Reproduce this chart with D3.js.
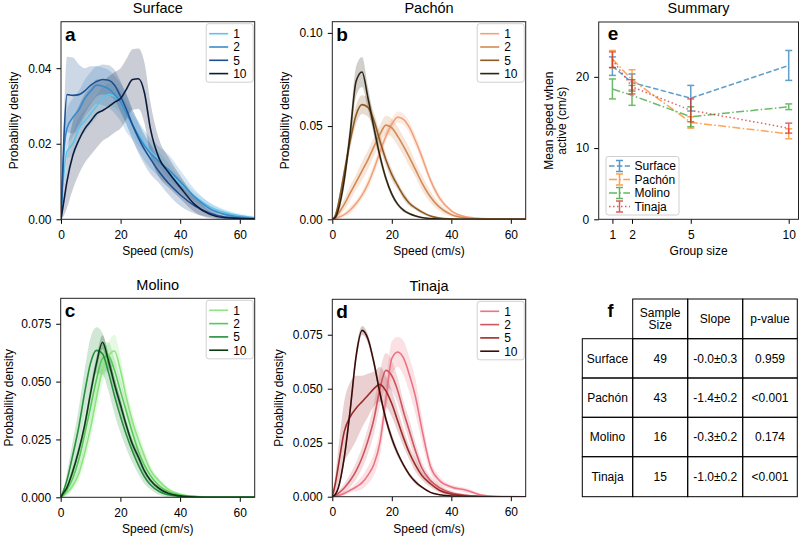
<!DOCTYPE html>
<html>
<head>
<meta charset="utf-8">
<script src="https://cdn.jsdelivr.net/npm/d3@7"></script>
<style>
  body { margin: 0; background: #fff; }
  svg { font-family: "Liberation Sans", Arial, sans-serif; }
</style>
</head>
<body>
<svg id="fig" width="800" height="538"></svg>
<script>
// speed grid (cm/s) shared by all density curves
const speedGrid = [0, 1, 2, 4, 6, 8, 10, 12, 14, 16, 18, 20, 22, 24, 26, 28, 30, 33, 36, 40, 45, 50, 55, 65];
const groupLabels = ["1", "2", "5", "10"];

// mean density for group sizes 1, 2, 5, 10
const surfaceMean = [
  [0, .012, .018, .020, .024, .026, .028, .030, .032, .033, .0325, .031, .028, .025, .0225, .020, .018, .0158, .0128, .0095, .006, .0033, .0018, .0004],
  [0, .018, .024, .027, .029, .032, .034, .0355, .0352, .0345, .033, .031, .028, .025, .022, .0195, .0175, .0152, .0132, .010, .0058, .0028, .0013, .0002],
  [0, .022, .033, .0328, .033, .034, .0355, .0365, .037, .0368, .0355, .0325, .029, .025, .0215, .0185, .016, .0125, .0096, .0065, .0035, .0016, .0006, .0001],
  [0, .005, .010, .017, .021, .024, .026, .028, .0288, .0298, .031, .032, .0345, .037, .0372, .0335, .024, .016, .0125, .0085, .0038, .0013, .0004, .0001]
];
const surfaceSpread = [
  [0, .002, .002, .003, .003, .003, .003, .003, .003, .003, .003, .003, .003, .003, .003, .002, .002, .002, .002, .0015, .0012, .001, .0008, .0004],
  [0, .004, .005, .005, .005, .005, .005, .005, .005, .005, .005, .005, .005, .004, .004, .004, .004, .004, .004, .003, .002, .0015, .001, .0004],
  [0, .006, .010, .010, .008, .006, .005, .004, .004, .004, .004, .004, .004, .004, .004, .004, .004, .003, .003, .003, .002, .001, .0006, .0002],
  [0, .004, .007, .009, .009, .009, .009, .009, .008, .008, .008, .008, .008, .008, .008, .008, .007, .005, .004, .003, .002, .001, .0004, .0001]
];

const pachonMean = [
  [0, .0005, .001, .0025, .005, .0085, .013, .019, .027, .036, .0445, .051, .0548, .0535, .049, .042, .034, .021, .0115, .0045, .0013, .0004, .0001, 0],
  [0, .001, .003, .008, .014, .020, .026, .032, .039, .0455, .0505, .049, .0445, .039, .033, .0265, .020, .012, .0065, .0025, .0007, .0002, 0, 0],
  [0, .002, .008, .025, .042, .056, .0615, .060, .053, .042, .032, .024, .018, .0125, .0085, .006, .004, .0018, .0007, .0002, 0, 0, 0, 0],
  [0, .001, .005, .021, .046, .074, .079, .065, .049, .034, .022, .0135, .008, .0048, .003, .0018, .001, .0004, .0001, 0, 0, 0, 0, 0]
];
const pachonSpread = [
  [0, 0, .001, .001, .002, .002, .002, .003, .003, .003, .003, .003, .003, .003, .003, .003, .003, .002, .002, .001, .0005, .0002, 0, 0],
  [0, .001, .002, .003, .004, .004, .005, .005, .005, .005, .005, .005, .005, .005, .005, .004, .004, .003, .002, .001, .0005, .0002, 0, 0],
  [0, .001, .002, .003, .004, .005, .005, .005, .004, .004, .003, .003, .002, .002, .0015, .001, .001, .0005, .0003, .0002, 0, 0, 0, 0],
  [0, .001, .002, .004, .006, .008, .008, .006, .004, .003, .002, .0015, .001, .001, .0005, .0005, .0003, .0002, .0001, 0, 0, 0, 0, 0]
];

const molinoMean = [
  [0, .001, .002, .005, .010, .019, .030, .043, .055, .061, .0632, .055, .043, .033, .025, .018, .012, .007, .0035, .0013, .0004, .0001, 0, 0],
  [0, .001, .003, .008, .016, .027, .039, .051, .060, .061, .055, .046, .037, .028, .020, .014, .0095, .005, .0025, .001, .0003, 0, 0, 0],
  [0, .003, .007, .018, .030, .045, .058, .0635, .062, .054, .044, .035, .027, .020, .014, .009, .0055, .0025, .0011, .0004, .0001, 0, 0, 0],
  [0, .002, .004, .011, .020, .031, .045, .058, .067, .059, .049, .040, .031, .023, .0175, .0115, .0075, .0038, .0017, .0006, .0001, 0, 0, 0]
];
const molinoSpread = [
  [0, 0, .001, .002, .003, .004, .005, .006, .006, .006, .007, .006, .005, .004, .004, .003, .002, .0015, .001, .0005, .0002, 0, 0, 0],
  [0, .001, .002, .004, .005, .006, .006, .007, .007, .006, .005, .005, .004, .004, .003, .003, .002, .0015, .001, .0005, .0002, 0, 0, 0],
  [0, .001, .003, .006, .008, .010, .011, .010, .009, .008, .008, .007, .006, .005, .004, .003, .002, .0015, .001, .0005, .0002, 0, 0, 0],
  [0, .001, .001, .002, .002, .003, .003, .003, .003, .003, .003, .003, .002, .002, .002, .0015, .001, .001, .0005, .0003, 0, 0, 0, 0]
];

const tinajaMean = [
  [0, .0002, .0005, .0015, .003, .0045, .0065, .010, .015, .025, .045, .064, .067, .064, .056, .046, .032, .014, .0075, .0045, .003, .0008, .0002, 0],
  [0, .0005, .0015, .004, .0075, .012, .018, .026, .036, .050, .0585, .056, .049, .039, .030, .021, .0135, .0075, .0042, .0018, .0006, .0002, 0, 0],
  [0, .006, .014, .030, .037, .041, .044, .047, .050, .052, .049, .043, .035, .027, .020, .0145, .010, .006, .003, .0012, .0004, .0001, 0, 0],
  [0, .001, .004, .018, .040, .065, .077, .073, .062, .048, .036, .027, .020, .0145, .010, .0068, .0045, .002, .0009, .0003, 0, 0, 0, 0]
];
const tinajaSpread = [
  [0, 0, .0005, .001, .001, .002, .003, .004, .005, .006, .007, .008, .007, .008, .008, .008, .006, .003, .002, .001, .001, .0005, .0002, 0],
  [0, .0005, .001, .002, .003, .004, .005, .006, .007, .008, .008, .007, .006, .005, .005, .004, .003, .002, .0015, .001, .0005, .0002, 0, 0],
  [0, .004, .008, .014, .016, .015, .012, .010, .008, .008, .007, .006, .005, .004, .003, .003, .002, .0015, .001, .0005, .0002, 0, 0, 0],
  [0, .0005, .001, .002, .003, .003, .002, .002, .002, .002, .002, .002, .0015, .001, .001, .001, .0005, .0003, .0002, .0001, 0, 0, 0, 0]
];

// summary: mean speed when active by group size
const groupSizes = [1, 2, 5, 10];
const summaryNames = ["Surface", "Pachón", "Molino", "Tinaja"];
const summarySurface = [21.5, 19.2, 17.0, 21.6];
const summaryPachon = [22.5, 19.6, 13.6, 12.0];
const summaryMolino = [18.3, 17.4, 14.4, 15.8];
const summaryTinaja = [22.4, 18.6, 15.3, 12.8];
const errSurface = [1.3, 1.2, 1.8, 2.1];
const errPachon = [1.2, 1.4, 0.8, 0.7];
const errMolino = [1.4, 1.4, 1.4, 0.4];
const errTinaja = [1.1, 1.0, 1.6, 0.7];

// table
const tableHeaders = [["Sample", "Size"], ["Slope"], ["p-value"]];
const sampleSizes = ["49", "43", "16", "15"];
const slopes = ["-0.0±0.3", "-1.4±0.2", "-0.3±0.2", "-1.0±0.2"];
const pValues = ["0.959", "<0.001", "0.174", "<0.001"];

const svg = d3.select("#fig");

function densityPanel(o) {
  const x = d3.scaleLinear().domain([0, 65]).range([o.left, o.right]);
  const y = d3.scaleLinear().domain([0, o.yMax]).range([o.bottom, o.top]);
  const g = svg.append("g");
  const clipId = "clip-" + o.letter;
  g.append("clipPath").attr("id", clipId).append("rect")
    .attr("x", o.left).attr("y", o.top).attr("width", o.right - o.left).attr("height", o.bottom - o.top);

  const plot = g.append("g").attr("clip-path", `url(#${clipId})`);
  const area = d3.area()
    .x((d, i) => x(speedGrid[i]))
    .y0(d => y(Math.max(0, d[0] - d[1])))
    .y1(d => y(d[0] + d[1]))
    .curve(d3.curveMonotoneX);
  const line = d3.line()
    .x((d, i) => x(speedGrid[i]))
    .y(d => y(d))
    .curve(d3.curveMonotoneX);

  o.means.forEach((m, k) => {
    plot.append("path")
      .attr("d", area(m.map((v, i) => [v, o.spreads[k][i]])))
      .attr("fill", o.colors[k]).attr("fill-opacity", 0.22).attr("stroke", "none");
  });
  o.means.forEach((m, k) => {
    plot.append("path").attr("d", line(m))
      .attr("fill", "none").attr("stroke", o.colors[k]).attr("stroke-width", 1.6);
  });

  const xAxis = g.append("g").attr("transform", `translate(0,${o.bottom})`)
    .call(d3.axisBottom(x).tickValues([0, 20, 40, 60]).tickSize(4.5).tickPadding(6.5));
  const yAxis = g.append("g").attr("transform", `translate(${o.left},0)`)
    .call(d3.axisLeft(y).tickValues(o.yTicks).tickFormat(d3.format(o.yFormat)).tickSize(4.5).tickPadding(5));
  [xAxis, yAxis].forEach(a => {
    a.select(".domain").remove();
    a.selectAll("text").attr("font-size", 12).attr("fill", "#000").attr("font-family", null);
    a.selectAll("line").attr("stroke", "#000");
  });

  g.append("rect").attr("x", o.left).attr("y", o.top)
    .attr("width", o.right - o.left).attr("height", o.bottom - o.top)
    .attr("fill", "none").attr("stroke", "#222").attr("stroke-width", 1);

  g.append("text").attr("x", (o.left + o.right) / 2).attr("y", o.top - 8.5)
    .attr("text-anchor", "middle").attr("font-size", 14.5).text(o.title);
  g.append("text").attr("x", (o.left + o.right) / 2).attr("y", o.bottom + 36)
    .attr("text-anchor", "middle").attr("font-size", 12).text("Speed (cm/s)");
  g.append("text")
    .attr("transform", `translate(${o.left - o.yLabelOff},${(o.top + o.bottom) / 2}) rotate(-90)`)
    .attr("text-anchor", "middle").attr("font-size", 12).text("Probability density");
  g.append("text").attr("x", o.left + 4).attr("y", o.top + 19)
    .attr("font-size", 19).attr("font-weight", "bold").text(o.letter);

  // legend
  const lx = o.right - 48.5, ly = o.top + 2;
  g.append("rect").attr("x", lx).attr("y", ly).attr("width", 47).attr("height", 58.5)
    .attr("rx", 2.5).attr("fill", "#fff").attr("fill-opacity", 0.8)
    .attr("stroke", "#d0d0d0").attr("stroke-width", 1);
  groupLabels.forEach((lab, k) => {
    const yy = ly + 10 + k * 13.3;
    g.append("line").attr("x1", lx + 3).attr("x2", lx + 22).attr("y1", yy).attr("y2", yy)
      .attr("stroke", o.colors[k]).attr("stroke-width", 1.6);
    g.append("text").attr("x", lx + 27).attr("y", yy).attr("dy", "0.36em")
      .attr("font-size", 12).text(lab);
  });
}

densityPanel({
  left: 61, right: 254.7, top: 21.7, bottom: 219.3, yMax: 0.0523,
  yTicks: [0, 0.02, 0.04], yFormat: ".2f", yLabelOff: 43.5,
  title: "Surface", letter: "a", means: surfaceMean, spreads: surfaceSpread,
  colors: ["#62c3ea", "#3b8bc9", "#1d4f92", "#0c1c40"]
});
densityPanel({
  left: 332.3, right: 525.7, top: 21.7, bottom: 219.3, yMax: 0.106,
  yTicks: [0, 0.05, 0.10], yFormat: ".2f", yLabelOff: 43.5,
  title: "Pachón", letter: "b", means: pachonMean, spreads: pachonSpread,
  colors: ["#f2a27a", "#d48a52", "#8e5a22", "#2e2410"]
});
densityPanel({
  left: 60.7, right: 254.7, top: 298.3, bottom: 497.3, yMax: 0.086,
  yTicks: [0, 0.025, 0.05, 0.075], yFormat: ".3f", yLabelOff: 48,
  title: "Molino", letter: "c", means: molinoMean, spreads: molinoSpread,
  colors: ["#8de57f", "#56c958", "#23903a", "#0a3a16"]
});
densityPanel({
  left: 332.3, right: 525.7, top: 299.3, bottom: 496.7, yMax: 0.0914,
  yTicks: [0, 0.025, 0.05, 0.075], yFormat: ".3f", yLabelOff: 49,
  title: "Tinaja", letter: "d", means: tinajaMean, spreads: tinajaSpread,
  colors: ["#ec7384", "#cf5660", "#9e2a27", "#3b0c0a"]
});

// ---- summary panel (e)
(function () {
  const L = 598.7, R = 798.5, T = 22, B = 219.3;
  const x = d3.scaleLinear().domain([0.3, 10.5]).range([L, R]);
  const y = d3.scaleLinear().domain([0, 27.7]).range([B, T]);
  const g = svg.append("g");
  const series = [
    { name: summaryNames[0], v: summarySurface, e: errSurface, c: "#1f77b4", dash: "5.5,2.4" },
    { name: summaryNames[1], v: summaryPachon, e: errPachon, c: "#ff7f0e", dash: "8,2.4,1.5,2.4" },
    { name: summaryNames[2], v: summaryMolino, e: errMolino, c: "#2ca02c", dash: "8,2.4,1.5,2.4" },
    { name: summaryNames[3], v: summaryTinaja, e: errTinaja, c: "#d62728", dash: "1.5,2.5" }
  ];
  const line = d3.line().x((d, i) => x(groupSizes[i])).y(d => y(d));
  series.forEach(s => {
    const sg = g.append("g").attr("opacity", 0.7);
    sg.append("path").attr("d", line(s.v)).attr("fill", "none")
      .attr("stroke", s.c).attr("stroke-width", 1.5).attr("stroke-dasharray", s.dash);
    s.v.forEach((v, i) => {
      const xx = x(groupSizes[i]);
      sg.append("line").attr("x1", xx).attr("x2", xx).attr("y1", y(v - s.e[i])).attr("y2", y(v + s.e[i]))
        .attr("stroke", s.c).attr("stroke-width", 1.5);
      [v - s.e[i], v + s.e[i]].forEach(w => {
        sg.append("line").attr("x1", xx - 3.5).attr("x2", xx + 3.5).attr("y1", y(w)).attr("y2", y(w))
          .attr("stroke", s.c).attr("stroke-width", 1.5);
      });
    });
  });

  const xAxis = g.append("g").attr("transform", `translate(0,${B})`)
    .call(d3.axisBottom(x).tickValues(groupSizes).tickSize(4.5).tickPadding(6.5));
  const yAxis = g.append("g").attr("transform", `translate(${L},0)`)
    .call(d3.axisLeft(y).tickValues([0, 10, 20]).tickSize(4.5).tickPadding(5));
  [xAxis, yAxis].forEach(a => {
    a.select(".domain").remove();
    a.selectAll("text").attr("font-size", 12).attr("fill", "#000").attr("font-family", null);
    a.selectAll("line").attr("stroke", "#000");
  });
  g.append("rect").attr("x", L).attr("y", T).attr("width", R - L).attr("height", B - T)
    .attr("fill", "none").attr("stroke", "#222").attr("stroke-width", 1);

  g.append("text").attr("x", (L + R) / 2).attr("y", T - 8.8)
    .attr("text-anchor", "middle").attr("font-size", 14.5).text("Summary");
  g.append("text").attr("x", (L + R) / 2).attr("y", B + 36)
    .attr("text-anchor", "middle").attr("font-size", 12).text("Group size");
  const yl = g.append("text")
    .attr("transform", `translate(${L - 39.5},${(T + B) / 2}) rotate(-90)`)
    .attr("text-anchor", "middle").attr("font-size", 12);
  yl.append("tspan").attr("x", 0).attr("dy", "-0.55em").text("Mean speed when");
  yl.append("tspan").attr("x", 0).attr("dy", "1.1em").text("active (cm/s)");
  g.append("text").attr("x", L + 9).attr("y", T + 18)
    .attr("font-size", 19).attr("font-weight", "bold").text("e");

  // legend
  const lx = 606, ly = 156.5;
  g.append("rect").attr("x", lx).attr("y", ly).attr("width", 73).attr("height", 58.5)
    .attr("rx", 2.5).attr("fill", "#fff").attr("fill-opacity", 0.8)
    .attr("stroke", "#d0d0d0").attr("stroke-width", 1);
  series.forEach((s, k) => {
    const yy = ly + 9.5 + k * 13.5;
    const lg = g.append("g").attr("opacity", 0.75);
    lg.append("line").attr("x1", lx + 3).attr("x2", lx + 24).attr("y1", yy).attr("y2", yy)
      .attr("stroke", s.c).attr("stroke-width", 1.5).attr("stroke-dasharray", s.dash);
    lg.append("line").attr("x1", lx + 13.5).attr("x2", lx + 13.5).attr("y1", yy - 5.5).attr("y2", yy + 5.5)
      .attr("stroke", s.c).attr("stroke-width", 1.5);
    [yy - 5.5, yy + 5.5].forEach(w => lg.append("line").attr("x1", lx + 10).attr("x2", lx + 17)
      .attr("y1", w).attr("y2", w).attr("stroke", s.c).attr("stroke-width", 1.5));
    g.append("text").attr("x", lx + 28.5).attr("y", yy).attr("dy", "0.36em")
      .attr("font-size", 12).text(s.name);
  });
})();

// ---- table (f)
(function () {
  const cols = [582.3, 632.7, 687.7, 742.7, 797.3];
  const rows = [299, 338.7, 378, 417.3, 456.7, 496.7];
  const g = svg.append("g");
  const cell = (x0, x1, y0, y1) => g.append("rect").attr("x", x0).attr("y", y0)
    .attr("width", x1 - x0).attr("height", y1 - y0)
    .attr("fill", "none").attr("stroke", "#000").attr("stroke-width", 1);
  const txt = (cx, cy, s) => g.append("text").attr("x", cx).attr("y", cy).attr("dy", "0.36em")
    .attr("text-anchor", "middle").attr("font-size", 12).text(s);

  tableHeaders.forEach((h, j) => {
    cell(cols[j + 1], cols[j + 2], rows[0], rows[1]);
    const cx = (cols[j + 1] + cols[j + 2]) / 2, cy = (rows[0] + rows[1]) / 2;
    h.forEach((line, k) => txt(cx, cy + (k - (h.length - 1) / 2) * 12.6, line));
  });
  summaryNames.forEach((name, i) => {
    const vals = [name, sampleSizes[i], slopes[i], pValues[i]];
    vals.forEach((v, j) => {
      cell(cols[j], cols[j + 1], rows[i + 1], rows[i + 2]);
      txt((cols[j] + cols[j + 1]) / 2, (rows[i + 1] + rows[i + 2]) / 2, v);
    });
  });
  g.append("text").attr("x", 610.5).attr("y", 317).attr("text-anchor", "middle")
    .attr("font-size", 18).attr("font-weight", "bold").text("f");
})();
</script>
</body>
</html>
